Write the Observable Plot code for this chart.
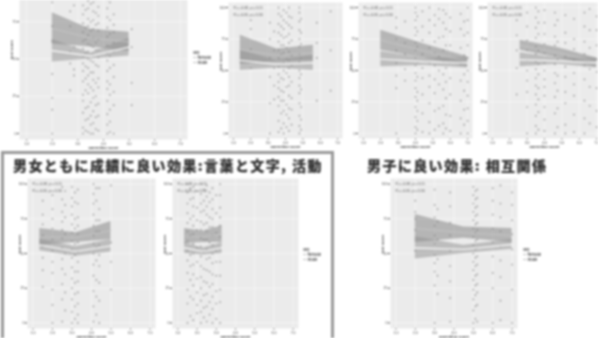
<!DOCTYPE html>
<html><head><meta charset="utf-8">
<script src="https://cdn.jsdelivr.net/npm/d3@7"></script>
<script src="https://cdn.jsdelivr.net/npm/@observablehq/plot@0.6"></script>
<style>
html,body{margin:0;padding:0;background:#fff;overflow:hidden}
#page{position:relative;width:598px;height:338px;overflow:hidden;filter:blur(1.3px);font-family:"Noto Sans CJK JP",sans-serif}
#page svg{position:absolute;display:block;background:none;overflow:hidden}
.t{position:absolute;font-weight:900;font-size:14px;line-height:16px;letter-spacing:1.4px;white-space:nowrap;color:#333;-webkit-text-stroke:.2px #333}
.l{position:absolute;font-size:4px;line-height:5px;white-space:pre;color:#555;font-weight:700}
#frame{position:absolute;left:1px;top:151px;width:327px;height:190px;border:3px solid #999}
</style></head><body><div id="page"></div>
<script>
const xTicks=[1,2,3,4,5,6,7];
const yTicks=[0,25,50,75,100];
const yTicksTop=[0,25,50,75];
const titleBoth="男女ともに成績に良い効果:言葉と文字, 活動";
const titleBoys="男子に良い効果: 相互関係";
const legendLabels="sex\n— female\n— male";

const pts1=[[2,[0,16,24,40,62,72,88]],[2.7,[29,47,55,72,82]],[2.85,[39,43,58,86]],[3.2,[0,4,14,22,26,35,42,47,52,57,62,68,74,80,86]],[3.3,[2,9,17,29,37,45,54,63,71,83]],[3.4,[1,10,18,27,33,39,44,50,55,60,66,72,77,84,89]],[3.5,[0,6,12,21,31,41,49,59,69,75,87]],[3.6,[0,7,15,24,29,36,41,48,53,58,64,70,76,82,88]],[3.7,[3,11,19,25,34,46,56,61,73,81,90]],[3.8,[2,12,20,31,37,45,51,56,63,69,74,79,85]],[4.15,[0,6,13,22,30,35,42,49,54,59,65,71,78,84,90]],[4.25,[1,8,16,26,33,44,52,67,76,88]],[4.4,[0,19,28,38,46,55,61,68,73,80]],[5.1,[19,34,58,70]]];
const pts2=[[2,[52,67,83,90]],[3.1,[0,24,45,60,75,88]],[3.35,[27,38,52,66,81]],[3.6,[1,10,22,29,36,41,47,53,60,66,73,80,87,95,100]],[3.75,[4,16,26,34,44,55,63,70,78,85,93]],[3.9,[0,8,18,26,33,43,50,56,64,70,76,83,90,98]],[4.05,[5,15,23,37,48,59,68,77,88,96]],[4.2,[2,12,20,30,38,45,52,58,65,72,79,86,93,100]],[4.35,[7,19,28,41,54,62,74,84,92]],[4.8,[0,6,14,24,32,38,44,50,57,63,69,75,82,89,96,100]],[4.9,[3,11,21,35,47,60,71,80,91]],[5.8,[26,60,72,88]],[6.6,[34,66,97]]];
const pts3=[[2.9,[0,36,46,56,66,75,84,92]],[3.4,[42,51,63,72,89]],[4,[0,5,13,21,29,36,42,48,54,60,66,72,78,84,90,96,100]],[4.1,[3,10,18,26,33,45,57,69,81,93]],[4.4,[1,16,31,44,52,63,74,85,97]],[4.8,[0,9,24,37,46,56,68,80,90,100]],[5.1,[3,18,32,43,54,64,73,86,94]],[5.35,[6,20,39,50,61,76,91,99]],[5.6,[0,8,22,35,47,57,66,77,88,98]],[5.75,[4,15,28,41,52,70,83,95]],[6,[2,14,31,44,56,70,81,92]],[6.6,[0,12,26,42,55,68,83,95]],[6.8,[7,19,34,47,62,78,89]],[7,[0,10,20,30,41,50,60,70,80,90,100]]];
const pts4=[[2.4,[31,52,66,78,90]],[3,[0,21,33,42,50,58,66,74,85,96]],[3.5,[0,6,14,23,31,38,44,51,57,63,69,76,84,92,100]],[3.65,[3,17,27,36,47,55,66,79,88,97]],[4,[2,11,21,30,37,43,50,56,64,71,79,88,98]],[4.6,[0,16,29,40,48,55,62,70,77,86,96]],[4.75,[5,20,34,46,59,73,90]],[5.2,[0,7,24,33,45,53,61,72,80,94]],[5.7,[1,15,30,39,48,58,67,75,91]],[6.3,[0,12,26,43,54,63,73,85,96]],[6.6,[8,22,37,51,68,82,99]],[7,[5,18,36,49,59,70,82,93]]];
const pts5=[[1.5,[26,38,47,55,63,71,78,88]],[2,[0,13,24,36,44,52,60,68,75,82,92]],[2.5,[1,17,28,39,46,54,61,67,73,80,89,98]],[2.65,[9,22,35,50,64,76,85,95]],[3,[0,8,17,25,32,40,47,53,59,65,71,78,84,90,98]],[3.15,[3,12,21,29,37,49,57,68,75,87,94]],[3.3,[0,6,14,22,30,37,44,51,58,64,70,76,86,96]],[4.1,[1,12,23,34,42,50,57,63,70,78,86,93,100]],[4.25,[6,19,31,45,55,66,74,88,97]],[4.4,[0,16,29,41,49,56,66,74,82,97]],[5,[24,44,58,99]]];
const pts6=[[1.5,[0,14,24,36,45,52,59,66,72,79,86,94,100]],[1.65,[5,19,31,41,49,63,75,89,97]],[1.8,[2,17,27,35,42,50,57,64,70,77,84,90,98]],[2,[7,13,22,32,44,54,67,74,83,95]],[2.2,[0,8,16,25,33,41,48,55,61,67,73,80,86,93,100]],[2.35,[4,11,20,30,39,51,60,71,81,88,96]],[2.5,[1,12,21,29,38,46,53,60,66,72,78,84,91,99]],[2.65,[6,15,26,37,47,58,69,76,87,94]],[2.8,[0,10,19,28,35,43,50,56,63,69,75,82,89,97]],[3,[3,14,23,34,44,52,65,79,92]],[3.2,[0,15,24,34,44,53,62,70,76,83,92,100]]];
const pts7=[[2,[52,67,75,80,88]],[3,[0,27,37,43,49,57,63,70,76,85,96]],[3.15,[21,34,46,60,73,82]],[3.8,[1,18,30,41,52,63,72,84,94]],[5,[0,9,17,24,31,38,44,50,56,62,68,74,80,86,92,98]],[5.1,[3,12,20,27,34,41,47,53,59,65,71,77,83,89,95]],[5.2,[1,13,22,28,35,42,48,54,60,67,72,78,84,90,96]],[6,[0,25,36,48,58,68,78,88,97]],[6.4,[2,16,33,45,55,66,76,86,99]],[7,[0,24,42,53,64,74,85,94]]];

const band1u={x:[2,3.5,5],hi:[81,70,68],lo:[60,58,55]}, band1l={x:[2,3.5,5],hi:[63,54,64],lo:[48,50,52]};
const band2u={x:[1.4,3.5,5.6],hi:[78,67,70],lo:[55,57,58]}, band2l={x:[1.4,3.5,5.6],hi:[66,58,62],lo:[50,52,50]};
const band3u={x:[2,4.5,7],hi:[82,71,61],lo:[66,60,53]}, band3l={x:[2,4.5,7],hi:[65,60,60],lo:[53,54,52]};
const band4u={x:[2.6,4.8,7],hi:[74,68,60],lo:[66,60,53]}, band4l={x:[2.6,4.8,7],hi:[64,60,60],lo:[53,55,52]};
const band5u={x:[1.35,3.2,5],hi:[68,65,73],lo:[56,58,60]}, band5l={x:[1.35,3.2,5],hi:[60,55,60],lo:[52,48,51]};
const band6u={x:[1.35,2.3,3.3],hi:[68,66,70],lo:[57,58,58]}, band6l={x:[1.35,2.3,3.3],hi:[58,54,58],lo:[50,49,50]};
const band7u={x:[2,4.5,7],hi:[78,69,68],lo:[58,61,58]}, band7l={x:[2,4.5,7],hi:[62,56,60],lo:[46,50,53]};

const notes=["R = -0.08, p = 0.15","R = -0.05, p = 0.34"];
const xName="parenting score", yName="test score";

const page=document.getElementById("page");
const xDomain=[0.72,7.28], yDomain=[-4,104];
const flat=c=>c.flatMap(([x,ys])=>ys.map(y=>({x,y})));
const rows=b=>b.x.map((x,i)=>({x,lo:b.lo[i],hi:b.hi[i],mid:(b.lo[i]+b.hi[i])/2}));

function panel(px,py,pw,ph,pts,bu,bl,clipped){
  const ml=12,mb=10,mt=1,mr=1;
  const u=rows(bu),l=rows(bl);
  const ticks=clipped?yTicksTop:yTicks;
  const svg=Plot.plot({
    width:pw+ml+mr,height:ph+mb+mt,marginLeft:ml,marginRight:mr,marginTop:mt,marginBottom:mb,
    style:{background:"none",fontFamily:"Liberation Sans",fontSize:"3.5px",color:"#444"},
    x:{domain:xDomain,ticks:xTicks,tickSize:1.5,tickPadding:1,label:null},
    y:{domain:yDomain,ticks:ticks,tickSize:2,tickPadding:1,label:null},
    marks:[
      Plot.frame({fill:"#ebebeb",stroke:null}),
      Plot.ruleX(xTicks,{stroke:"#fcfcfc",strokeWidth:.6}),
      Plot.ruleY(ticks,{stroke:"#fcfcfc",strokeWidth:.6}),
      Plot.dot(flat(pts),{x:"x",y:"y",r:.85,fill:"#444",fillOpacity:.5}),
      Plot.areaY(u,{x:"x",y1:"lo",y2:"hi",fill:"#808080",fillOpacity:.5}),
      Plot.areaY(l,{x:"x",y1:"lo",y2:"hi",fill:"#909090",fillOpacity:.5}),
      Plot.line(u,{x:"x",y:"mid",stroke:"#c8c8c8",strokeWidth:.8}),
      Plot.line(l,{x:"x",y:"mid",stroke:"#f6f6f6",strokeWidth:1.4}),
      clipped?null:Plot.text([notes[0]],{frameAnchor:"top-left",dx:5,dy:4,fontSize:3.5,fill:"#555"}),
      clipped?null:Plot.text([notes[1]],{frameAnchor:"top-left",dx:5,dy:11,fontSize:3.5,fill:"#555"}),
      Plot.text([xName],{frameAnchor:"bottom",dy:9,fontSize:4,fontWeight:700,fill:"#444"}),
      Plot.text([yName],{frameAnchor:"left",dx:-8,rotate:-90,fontSize:4,fontWeight:700,fill:"#444"})
    ]
  });
  svg.style.left=(px-ml)+"px";
  svg.style.top=(py-mt)+"px";
  page.appendChild(svg);
}
panel(19,-22,168,161,pts1,band1u,band1l,true);
panel(228,2,114,136,pts2,band2u,band2l);
panel(358,2,114,136,pts3,band3u,band3l);
panel(487,2,114,136,pts4,band4u,band4l);
panel(27,178,128,150,pts5,band5u,band5l);
panel(172,178,126,150,pts6,band6u,band6l);
panel(390,178,127,150,pts7,band7u,band7l);

function add(cls,text,x,y){const d=document.createElement("div");d.className=cls;d.textContent=text;d.style.left=x+"px";d.style.top=y+"px";page.appendChild(d);}
const f=document.createElement("div");f.id="frame";page.appendChild(f);
add("t",titleBoth,13,157);
add("t",titleBoys,367,157);
add("l",legendLabels,193,50);
add("l",legendLabels,303,247);
add("l",legendLabels,523,247);
</script></body></html>
